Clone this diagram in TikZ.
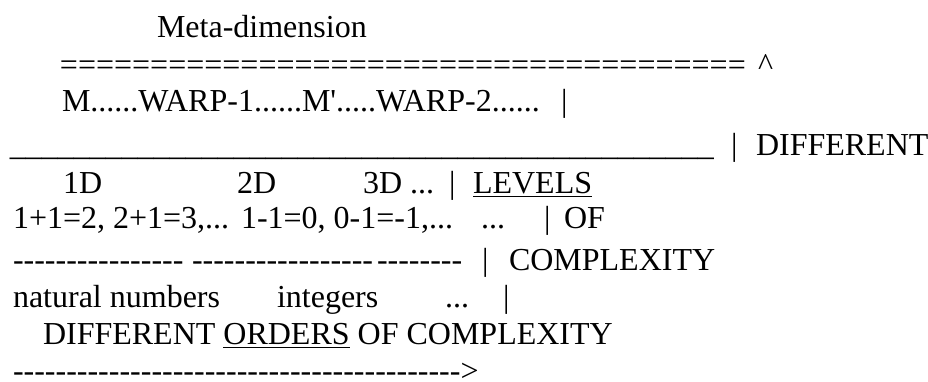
\documentclass[tikz,border=0pt]{standalone}
\usepackage{fontspec}
\setmainfont{Liberation Serif}[Ligatures=TeXOff]
\ExplSyntaxOn
\cs_new:Npn \reprchars #1#2 { \prg_replicate:nn {#1} {#2} }
\ExplSyntaxOff
\tikzset{
  txt/.style={anchor=base west, inner sep=0pt, outer sep=0pt, font=\fontsize{16}{19}\selectfont, text=black},
}
\begin{document}
\begin{tikzpicture}[x=0.5pt,y=-0.5pt]
\useasboundingbox[fill=white] (0,0) rectangle (928,381);
% row 1
\node[txt] (meta) at (157,37) {Meta-dimension};
% row 2
\node[txt] (eqs) at (60,75) {\reprchars{38}{=}};
\node[txt] (caret) at (758,75) {\textasciicircum};
% row 3
\node[txt] (mrow) at (62,111) {M......WARP-1......M\textquotesingle.....WARP-2......};
\node[txt] (bar3) at (561,111) {|};
% row 4
\node[txt] (under) at (10,155) {\reprchars{44}{\_}};
\node[txt] (bar4) at (731,155) {|};
\node[txt] (diff1) at (756,155) {DIFFERENT};
% row 5
\node[txt] (d1) at (63,193) {1D};
\node[txt] (d2) at (237,193) {2D};
\node[txt] (d3) at (363,193) {3D ...};
\node[txt] (bar5) at (449,193) {|};
\node[txt] (levels) at (473,193) {\underline{LEVELS}};
% row 6
\node[txt] (nat) at (13,228) {1+1=2, 2+1=3,...};
\node[txt] (int) at (241,228) {1-1=0, 0-1=-1,...};
\node[txt] (dots6) at (481,228) {...};
\node[txt] (bar6) at (544,228) {|};
\node[txt] (of) at (564,228) {OF};
% row 7
\node[txt] (h1) at (13,270) {\reprchars{16}{-}};
\node[txt] (h2) at (192,270) {\reprchars{17}{-}};
\node[txt] (h3) at (377,270) {\reprchars{8}{-}};
\node[txt] (bar7) at (482,270) {|};
\node[txt] (cplx) at (509,270) {COMPLEXITY};
% row 8
\node[txt] (natn) at (13,307) {natural numbers};
\node[txt] (intn) at (277,307) {integers};
\node[txt] (dots8) at (445,307) {...};
\node[txt] (bar8) at (503,307) {|};
% row 9
\node[txt] (orders) at (43,344) {DIFFERENT \underline{ORDERS} OF COMPLEXITY};
% row 10
\node[txt, text depth=0pt] (arrow) at (13,381) {\reprchars{42}{-}>};
\end{tikzpicture}
\end{document}
